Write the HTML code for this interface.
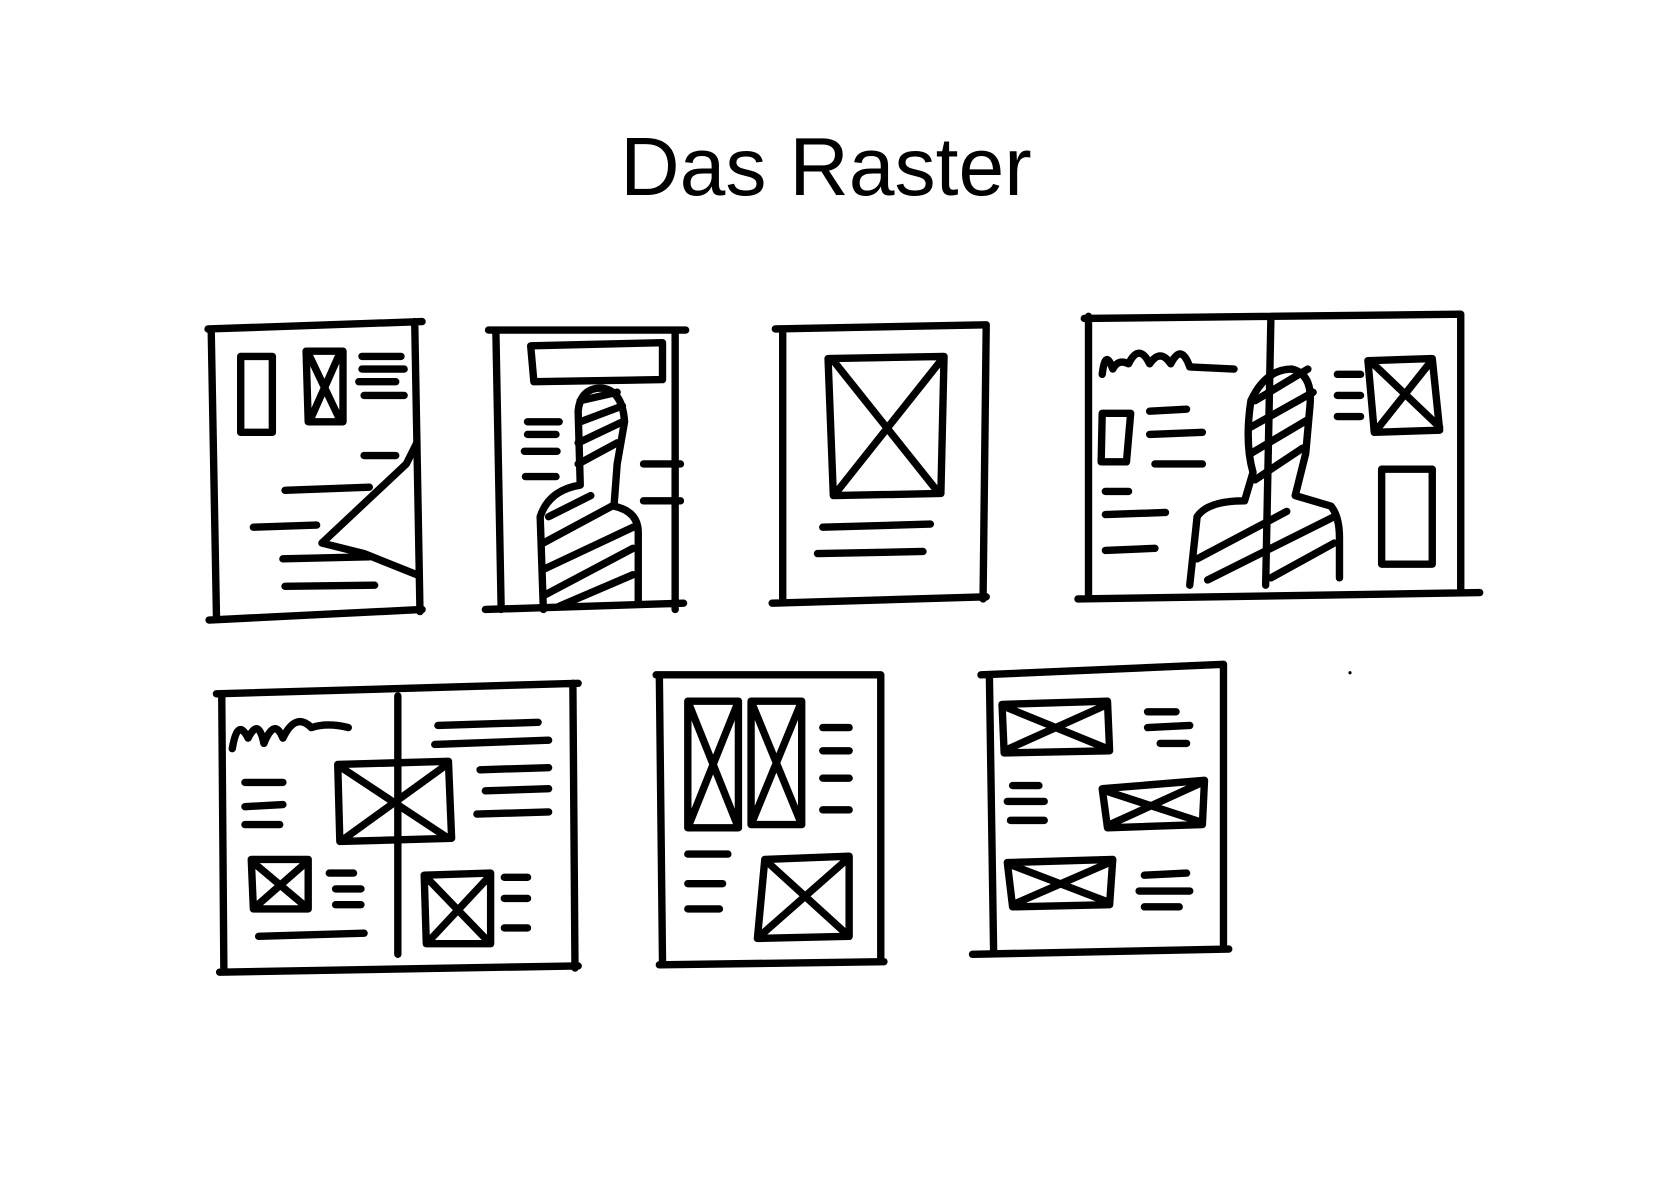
<!DOCTYPE html>
<html><head><meta charset="utf-8"><style>
html,body{margin:0;padding:0;background:#fff;width:1654px;height:1181px;overflow:hidden}
svg{display:block}
</style></head><body>
<svg width="1654" height="1181" viewBox="0 0 1568 1120" xmlns="http://www.w3.org/2000/svg">
<rect width="1568" height="1120" fill="#fff"/>
<text x="783" y="185" text-anchor="middle" font-family="Liberation Sans, sans-serif" font-size="78" fill="#000">Das Raster</text>
<g fill="none" stroke="#000" stroke-width="7" stroke-linecap="round" stroke-linejoin="round">
<path d="M197,312 L400,305 M200,312 L205,585 M198,588 L400,578 M393,305 L398,580"/>
<rect x="228" y="338" width="30" height="72"/>
<path d="M290,333 L325,333 L325,400 L292,400 Z M292,335 L322,398 M322,335 L294,398"/>
<path d="M343,338 L380,338 M343,350 L383,350 M340,362 L375,362 M345,375 L383,375"/>
<path d="M345,432 L375,432 M270,465 L350,462 M240,500 L300,498 M268,530 L350,528 M270,556 L355,555"/>
<path d="M395,420 L385,440 L305,515 L345,525 L395,545"/>
<path d="M463,313 L650,313 M470,315 L475,578 M460,578 L648,572 M640,313 L640,578"/>
<path d="M503,328 L628,325 L628,360 L506,362 Z"/>
<path d="M515,578 L512,490 Q520,465 550,460 L548,390 Q550,368 570,368 Q590,370 592,400 L585,440 L582,480 Q605,485 605,505 L605,570"/>
<path d="M550,380 L585,372 M550,400 L590,385 M548,420 L590,400 M548,440 L585,420 M520,490 L560,470 M515,515 L580,480 M515,540 L600,500 M515,565 L600,520 M530,575 L600,545"/>
<path d="M500,400 L530,400 M500,412 L527,412 M497,428 L528,428 M498,452 L527,452 M610,440 L645,440 M610,475 L645,475"/>
<path d="M735,312 L935,308 M742,312 L742,570 M732,572 L935,566 M935,308 L932,568"/>
<path d="M785,340 L895,338 L892,468 L790,470 Z M790,342 L888,465 M892,342 L792,468"/>
<path d="M780,500 L882,497 M775,525 L875,523"/>
<path d="M1028,302 L1385,298 M1032,300 L1032,565 M1022,568 L1403,562 M1385,298 L1385,560 M1205,300 L1200,555"/>
<path d="M1045,355 Q1048,330 1055,350 Q1060,340 1070,345 Q1080,325 1090,345 Q1100,330 1110,345 Q1120,325 1128,348 L1170,350"/>
<path d="M1045,392 L1072,392 L1068,438 L1044,438 Z"/>
<path d="M1090,390 L1125,388 M1090,412 L1140,410 M1095,440 L1140,440 M1048,466 L1070,466 M1048,488 L1105,486 M1048,522 L1095,520"/>
<path d="M1128,555 L1135,490 Q1145,475 1180,475 L1188,448 Q1180,420 1186,380 Q1200,350 1225,350 Q1245,355 1242,385 L1238,430 L1228,470 L1262,480 Q1270,490 1270,510 L1270,548"/>
<path d="M1190,380 L1240,350 M1186,405 L1245,372 M1186,430 L1240,398 M1190,455 L1235,425 M1135,530 L1220,485 M1145,550 L1265,490 M1205,548 L1265,515"/>
<path d="M1268,355 L1290,355 M1268,375 L1290,375 M1268,395 L1290,395"/>
<path d="M1297,342 L1358,340 L1365,408 L1303,410 Z M1302,345 L1365,405 M1355,345 L1305,408"/>
<path d="M1310,445 L1358,445 L1358,535 L1310,535 Z"/>
<path d="M205,658 L548,648 M210,658 L212,918 M208,922 L548,916 M543,648 L545,918 M377,660 L377,905"/>
<path d="M220,710 Q225,680 235,700 Q245,680 250,705 Q260,680 268,700 Q280,675 295,690 Q310,685 330,690"/>
<path d="M415,688 L510,685 M412,706 L520,702 M455,730 L520,728 M460,750 L520,748 M452,772 L520,770 M232,742 L268,742 M232,765 L268,763 M232,782 L265,782"/>
<path d="M320,725 L425,722 L428,795 L322,798 Z M322,727 L425,795 M425,724 L324,797"/>
<path d="M238,815 L292,815 L292,862 L240,862 Z M240,818 L290,860 M290,818 L242,860"/>
<path d="M312,828 L335,828 M318,843 L342,843 M318,858 L342,858 M245,888 L345,885"/>
<path d="M402,830 L465,828 L465,895 L404,895 Z M404,832 L463,893 M463,832 L406,893"/>
<path d="M478,832 L500,832 M478,852 L500,852 M478,880 L500,880"/>
<path d="M622,640 L835,640 M625,640 L628,912 M625,915 L838,912 M835,640 L835,910"/>
<path d="M652,665 L700,665 L700,785 L652,785 Z M652,665 L700,785 M700,665 L652,785"/>
<path d="M712,665 L760,665 L760,782 L712,782 Z M712,665 L760,782 M760,665 L712,782"/>
<path d="M780,690 L805,690 M780,712 L805,712 M780,738 L805,738 M780,768 L805,768"/>
<path d="M652,810 L690,810 M652,838 L685,838 M652,862 L682,862"/>
<path d="M725,815 L805,812 L805,888 L718,890 Z M728,818 L805,888 M803,815 L720,888"/>
<path d="M930,640 L1160,630 M938,640 L942,902 M922,905 L1165,900 M1160,630 L1160,900"/>
<path d="M950,668 L1050,665 L1052,712 L952,714 Z M952,670 L1050,710 M1050,668 L952,712"/>
<path d="M1088,675 L1115,675 M1088,690 L1128,688 M1100,705 L1125,705"/>
<path d="M960,745 L985,745 M955,760 L990,760 M958,778 L990,778"/>
<path d="M1045,748 L1142,740 L1140,782 L1050,785 Z M1048,750 L1140,780 M1140,742 L1050,783"/>
<path d="M955,818 L1055,815 L1052,858 L960,860 Z M958,820 L1052,856 M1052,818 L960,858"/>
<path d="M1085,830 L1125,828 M1080,845 L1128,845 M1085,860 L1118,860"/>
<circle cx="1280" cy="638" r="1.5" fill="#000" stroke="none"/>
</g>
</svg>
</body></html>
